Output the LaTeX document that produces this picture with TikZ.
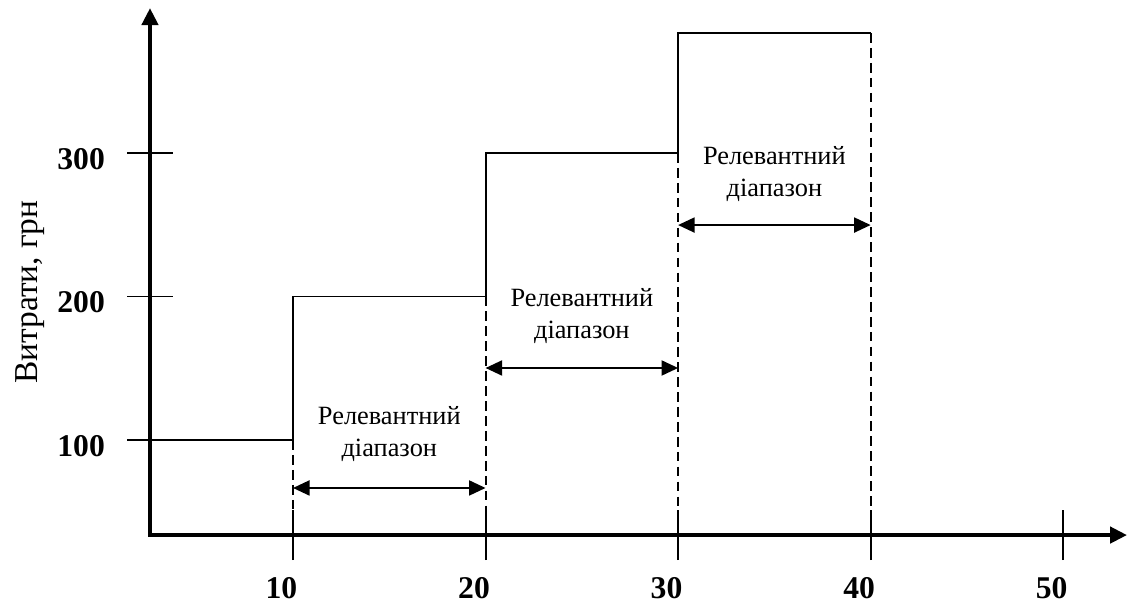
\documentclass[tikz,border=0pt]{standalone}
\usepackage{fontspec}
\setmainfont{Liberation Serif}
\usetikzlibrary{arrows.meta}

\tikzset{
  axis/.style={line width=2.4pt,{Triangle[length=0.34cm,width=0.32cm]}-{Triangle[length=0.34cm,width=0.32cm]}},
  level/.style={line width=1.1pt},
  tickmark/.style={line width=1.1pt},
  guide/.style={line width=1.1pt,dash pattern=on 5.5pt off 3pt},
  rangearrow/.style={line width=1.1pt,{Triangle[length=0.33cm,width=0.3cm]}-{Triangle[length=0.33cm,width=0.3cm]}},
  rangetext/.style={align=center,font=\fontsize{15}{18}\selectfont},
  value/.style={font=\fontsize{18}{20}\selectfont\bfseries}
}

\begin{document}
\begin{tikzpicture}[x=3.85cm,y=2.87cm]
      \useasboundingbox (-0.522,-0.150) rectangle (5.342,4.066);
      \coordinate (o)    at (0.257,0.338);
      \coordinate (xend) at (5.332,0.338);
      \coordinate (yend) at (0.257,4.010);
      \coordinate (s0) at (0.138,1);
      \coordinate (s1) at (1,1);
      \coordinate (s2) at (1,2);
      \coordinate (s3) at (2,2);
      \coordinate (s4) at (2,3);
      \coordinate (s5) at (3,3);
      \coordinate (s6) at (3,3.836);
      \coordinate (s7) at (4,3.836);
      \draw [axis] (yend) -- (o) -- (xend);
      \node [rotate=90,font=\fontsize{19}{22}\selectfont] (ylabel) at (-0.366,2.031) {Витрати, грн};
      % steps of the cost
      \draw [level] (s0) -- (s1) -- (s2) -- (s3) -- (s4) -- (s5) -- (s6) -- (s7);
      \draw [guide] (s1) -- (1,0.512);
      \draw [guide] (s3) -- (2,0.512);
      \draw [guide] (s5) -- (3,0.512);
      \draw [guide] (s7) -- (4,0.512);
      \foreach \x in {1,...,5} {
        \draw [tickmark] (\x,0.164) -- (\x,0.512);
        \node [value] (xv\x) at (\x-0.06,-0.035) {\x0};
      }
      \foreach \y in {2,3}
        \draw [tickmark] (0.138,\y) -- (0.377,\y);
      \foreach \y in {1,2,3}
        \node [value,anchor=east] (yv\y) at (0.055,\y-0.04) {\y00};
      % relevant ranges
      \draw [rangearrow] (1,0.666) -- (2,0.666);
      \draw [rangearrow] (2,1.502) -- (3,1.502);
      \draw [rangearrow] (3,2.498) -- (4,2.498);
      \node [rangetext] (r1) at (1.5,1.04)  {Релевантний\\діапазон};
      \node [rangetext] (r2) at (2.5,1.864) {Релевантний\\діапазон};
      \node [rangetext] (r3) at (3.5,2.854) {Релевантний\\діапазон};
\end{tikzpicture}
\end{document}
